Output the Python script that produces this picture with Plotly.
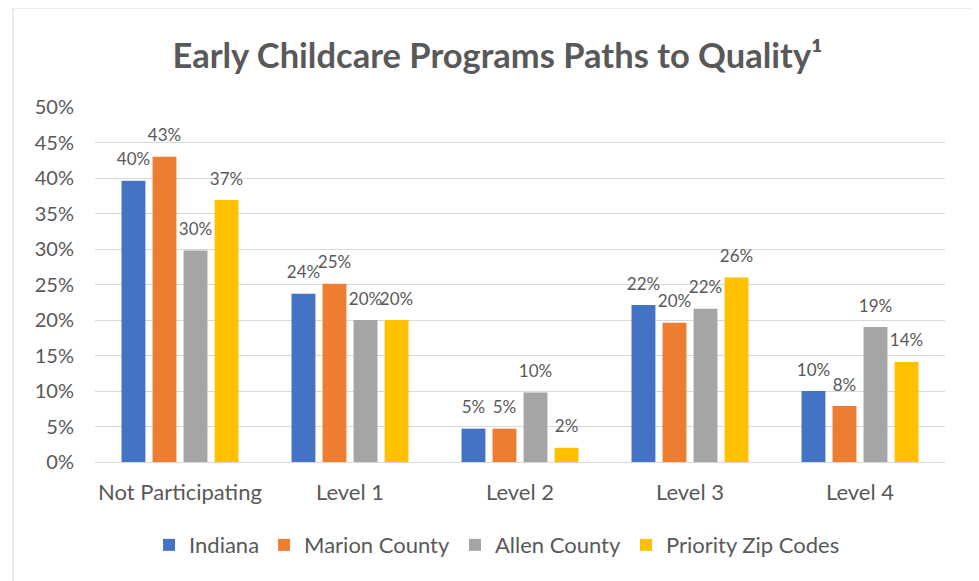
import plotly.graph_objects as go

categories = ["Not Participating", "Level 1", "Level 2", "Level 3", "Level 4"]
series_names = ["Indiana", "Marion County", "Allen County", "Priority Zip Codes"]
indiana = [39.6, 23.7, 4.7, 22.1, 10.0]
marion = [43.0, 25.1, 4.7, 19.6, 7.9]
allen = [29.8, 20.0, 9.8, 21.6, 19.0]
priority = [36.9, 20.0, 2.0, 26.0, 14.1]
colors = ["#4472C4", "#ED7D31", "#A5A5A5", "#FFC000"]
y_ticks = [0, 5, 10, 15, 20, 25, 30, 35, 40, 45, 50]
y_tick_labels = [f"{v}%" for v in y_ticks]

FONT = "Lato"
TXT = "#595959"

fig = go.Figure()
for name, vals, col in zip(series_names, [indiana, marion, allen, priority], colors):
    fig.add_trace(go.Bar(
        x=categories, y=vals, name=name,
        marker=dict(color=col, line=dict(width=0)),
        texttemplate="<span style='font-size:17px'>%{y:.0f}%</span><br> ",
        textposition="outside",
        textfont=dict(family=FONT, size=8, color=TXT),
        constraintext="none",
        cliponaxis=False,
    ))

fig.update_layout(
    width=979, height=581,
    paper_bgcolor="white", plot_bgcolor="white",
    margin=dict(l=87, r=42, t=99, b=127, autoexpand=False),
    barmode="group", bargap=0.27, bargroupgap=0.23,
    title=dict(text="Early Childcare Programs Paths to Quality¹",
               x=0.5, xanchor="center", y=0.917, yanchor="middle",
               font=dict(family=FONT, size=34.5, color=TXT, weight="bold")),
    font=dict(family=FONT, color=TXT),
    legend=dict(orientation="h", x=0.473, xanchor="center",
                y=-0.234, yanchor="middle",
                font=dict(family=FONT, size=22, color=TXT),
                traceorder="normal"),
    showlegend=True,
)
fig.update_yaxes(range=[0, 50], tickvals=y_ticks, ticktext=y_tick_labels,
                 gridcolor="#D9D9D9", gridwidth=1, zeroline=False,
                 showline=False, tickfont=dict(family=FONT, size=20, color=TXT),
                 ticklabelstandoff=20, automargin=False)
fig.update_xaxes(showline=True, linecolor="#D9D9D9", linewidth=1,
                 tickfont=dict(family=FONT, size=22, color=TXT),
                 tickangle=0, ticklabelstandoff=11, automargin=False)

fig.add_shape(type="rect", xref="paper", yref="paper",
              x0=-0.0965, x1=1.0318, y0=-0.36, y1=1.279,
              line=dict(color="#D9D9D9", width=1), fillcolor="rgba(0,0,0,0)",
              layer="below")

fig.write_html("out.html")
